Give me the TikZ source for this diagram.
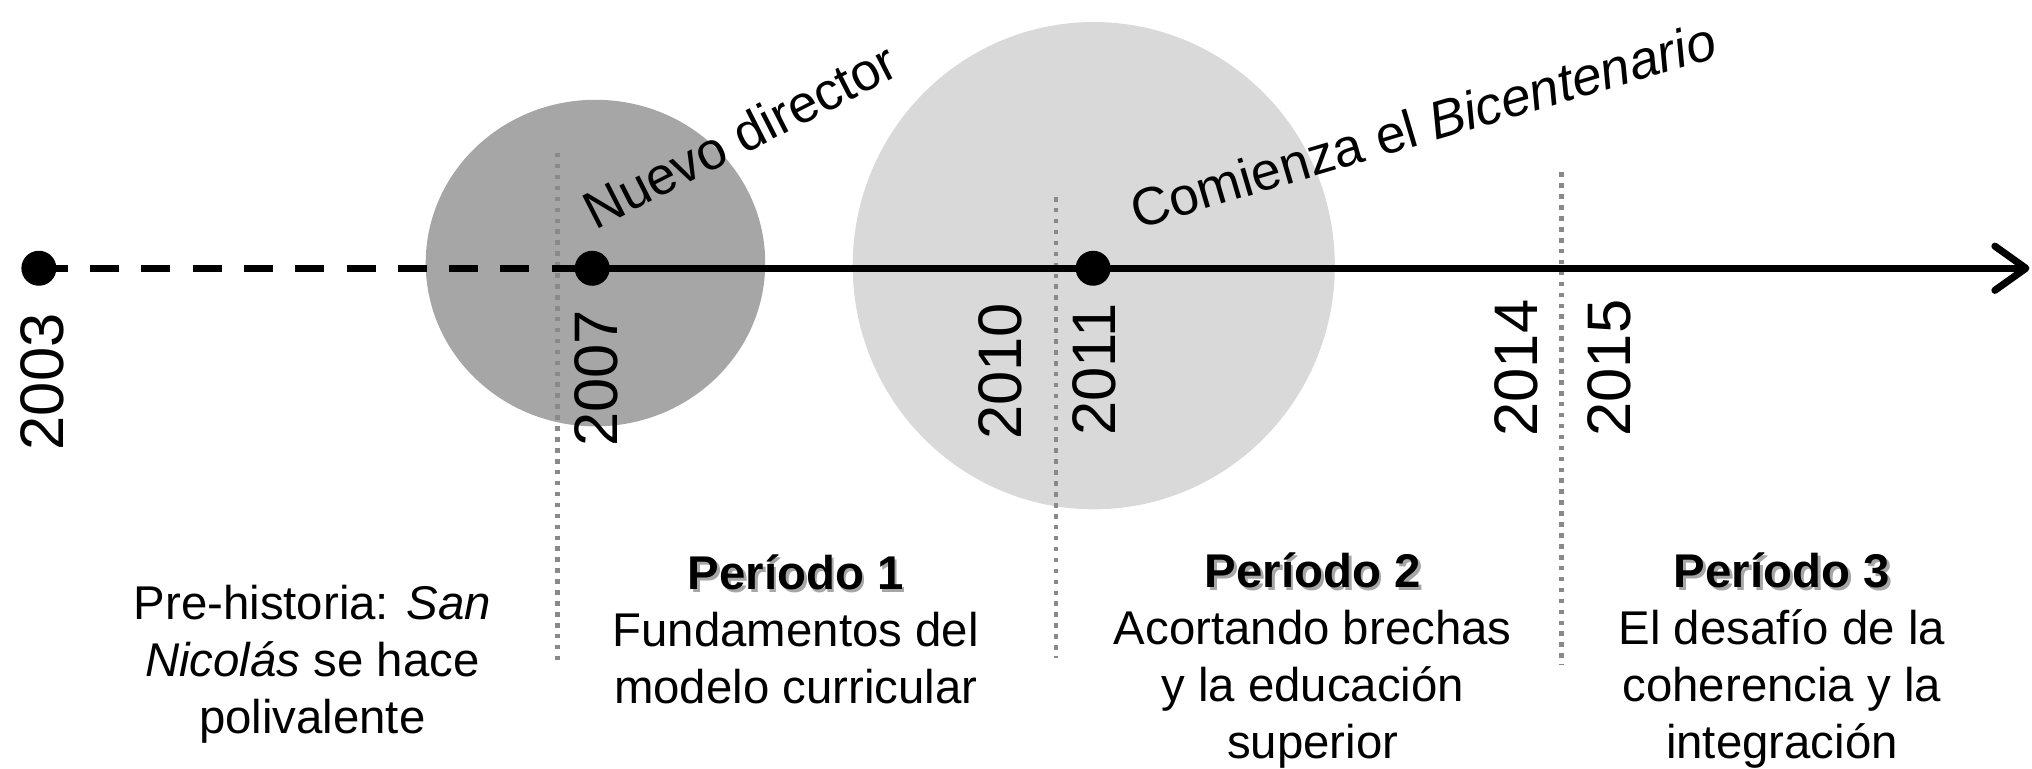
\documentclass[tikz,border=0pt]{standalone}
\usepackage{fontspec}
\setmainfont{Liberation Sans}
\usetikzlibrary{arrows.meta}

\definecolor{oscuro}{HTML}{A6A6A6}
\definecolor{claro}{HTML}{D9D9D9}
\definecolor{gris}{HTML}{898989}

% bold title with a soft grey shadow
\newcommand{\titulo}[1]{\makebox[0pt][l]{\hspace{0.6pt}\raisebox{-0.6pt}{\textcolor{black!35}{\textbf{#1}}}}\textbf{#1}}

\begin{document}
\begin{tikzpicture}[x=0.1mm, y=0.1mm,
    hito/.style={circle, fill=black, inner sep=0pt, minimum size=2.7mm},
    anio/.style={rotate=90, inner sep=0pt, font=\fontsize{13.5}{16}\selectfont},
    linea/.style={line width=1.56pt},
    corte/.style={gris, line width=1pt, dash pattern=on 1pt off 1.4pt},
    evento/.style={anchor=base west, inner sep=0pt},
    texto/.style={align=center, anchor=base, inner sep=0pt, font=\fontsize{10.4}{12.5}\selectfont}]

    \useasboundingbox (0,0) rectangle (1568,593);

    % Draw the two circles
    \fill[oscuro] (459.5,390) ellipse [x radius=131, y radius=126];
    \fill[claro] (844,388) ellipse [x radius=186, y radius=188];

    % Draw dotted period limits
    \draw[corte] (430,475) -- (430,83);
    \draw[corte] (815,441) -- (815,85);
    \draw[corte] (1205,460) -- (1205,80);

    % Draw milestones and timeline
    \node[hito] (h2003) at (30,386) {};
    \node[hito] (h2007) at (457,386) {};
    \node[hito] (h2011) at (843.5,386) {};
    \coordinate (fin) at (1566,386);

    \draw[linea, dash pattern=on 6.37pt off 4.89pt] (h2003.center) -- (h2007.center);
    \draw[linea, -{Straight Barb[round, length=6.8pt, width=9.7pt]}] (h2007.center) -- (fin);

    % Years
    \node[anio] (a2003) at (32.5,298.3) {2003};
    \node[anio] (a2007) at (460,301) {2007};
    \node[anio] (a2010) at (772,306.3) {2010};
    \node[anio] (a2011) at (844.5,308) {2011};
    \node[anio] (a2014) at (1170,309) {2014};
    \node[anio] (a2015) at (1242,309) {2015};

    % Events
    \node[evento, rotate=27, font=\fontsize{11.6}{14}\selectfont] (director) at (459,415) {Nuevo director};
    \node[evento, rotate=16.5, font=\fontsize{11.7}{14}\selectfont] (bicentenario) at (877,416) {Comienza el \textit{Bicentenario}};

    % Periods (anchored at the baseline of the last line)
    \node[texto] (prehistoria) at (241,27.3) {Pre-historia: \textit{San}\\\textit{Nicolás} se hace\\polivalente};
    \node[texto] (periodo1) at (614,50.4) {\titulo{Período 1}\\Fundamentos del\\modelo curricular};
    \node[texto] (periodo2) at (1013,7.5) {\titulo{Período 2}\\Acortando brechas\\y la educación\\superior};
    \node[texto] (periodo3) at (1375,7.5) {\titulo{Período 3}\\El desafío de la\\coherencia y la\\integración};
\end{tikzpicture}
\end{document}
